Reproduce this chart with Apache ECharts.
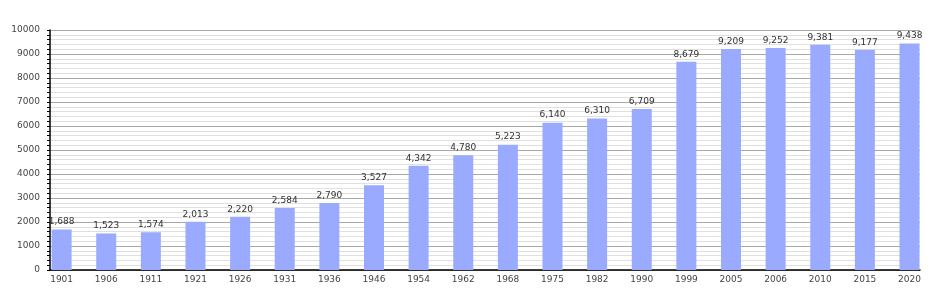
<!DOCTYPE html>
<html><head><meta charset="utf-8">
<script src="https://cdn.jsdelivr.net/npm/echarts@6/dist/echarts.min.js"></script>
<style>html,body{margin:0;padding:0;background:#fff}#c{width:950px;height:300px}</style>
</head><body><div id="c"></div>
<script>
const years = ['1901','1906','1911','1921','1926','1931','1936','1946','1954','1962','1968','1975','1982','1990','1999','2005','2006','2010','2015','2020'];
const population = [1688,1523,1574,2013,2220,2584,2790,3527,4342,4780,5223,6140,6310,6709,8679,9209,9252,9381,9177,9438];
const yTicks = [0,1000,2000,3000,4000,5000,6000,7000,8000,9000,10000];

const chart = echarts.init(document.getElementById('c'), null, {renderer:'canvas'});
const fnt = 'DejaVu Sans, Verdana, sans-serif';
chart.setOption({
  animation:false,
  grid:{left:50,right:30,top:30,bottom:30},
  xAxis:{
    type:'value', min:-0.26, max:19.235,
    axisLine:{show:true,onZero:false,lineStyle:{color:'#000',width:1.5}},
    axisTick:{show:false},
    splitLine:{show:false},
    axisLabel:{customValues:years.map((_,i)=>i),formatter:v=>years[Math.round(v)],color:'#444',fontSize:9,fontFamily:fnt,margin:5}
  },
  yAxis:{
    type:'value', min:0, max:10000, interval:1000,
    axisLine:{show:true,onZero:false,lineStyle:{color:'#000',width:1.5}},
    axisTick:{show:true,length:3,lineStyle:{color:'#000'}},
    minorTick:{show:true,splitNumber:5,length:3,lineStyle:{color:'#000'}},
    splitLine:{show:true,lineStyle:{color:'#a8a8a8',width:1}},
    minorSplitLine:{show:true,lineStyle:{color:'#e0e0e0',width:1}},
    axisLabel:{customValues:yTicks,formatter:v=>String(v),color:'#444',fontSize:9,fontFamily:fnt,margin:10}
  },
  series:[{
    type:'bar',
    data:population.map((v,i)=>[i,v]),
    barWidth:20,
    itemStyle:{color:'#99aaff'},
    label:{show:true,position:'top',distance:3,color:'#333',fontSize:9,fontFamily:fnt,
      formatter:p=>p.value[1].toLocaleString('en-US')}
  }]
});
</script></body></html>
